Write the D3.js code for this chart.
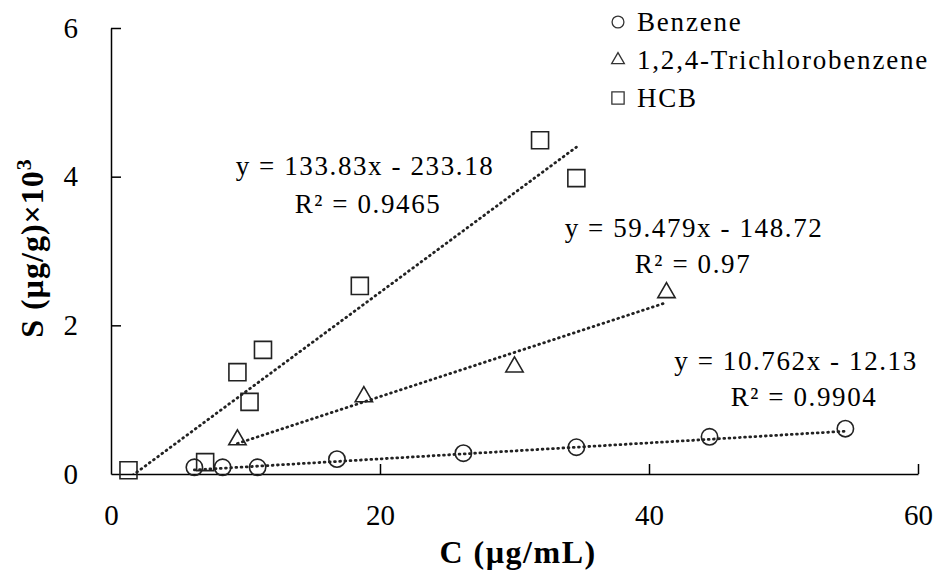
<!DOCTYPE html>
<html>
<head>
<meta charset="utf-8">
<script src="https://cdn.jsdelivr.net/npm/d3@7"></script>
<style>
  body { margin: 0; background: #fff; }
  text { font-family: "Liberation Serif", "Times New Roman", serif; fill: #000; }
</style>
</head>
<body>
<script>
// Data (S in units of 10^3 ug/g)
const seriesNames = ["Benzene", "1,2,4-Trichlorobenzene", "HCB"];
const benzeneC = [6.2, 8.3, 10.9, 16.8, 26.2, 34.6, 44.5, 54.6];
const benzeneS = [0.09, 0.09, 0.09, 0.20, 0.28, 0.36, 0.50, 0.61];
const tcbC = [9.4, 18.8, 30.0, 41.3];
const tcbS = [0.46, 1.04, 1.44, 2.44];
const hcbC = [1.3, 7.0, 9.4, 10.3, 11.3, 18.5, 31.9, 34.6];
const hcbS = [0.05, 0.16, 1.37, 0.97, 1.67, 2.53, 4.49, 3.98];
// trendline coefficients (ug/g), as printed
const slopes = [10.762, 59.479, 133.83];
const intercepts = [-12.13, -148.72, -233.18];
const eqLabels = ["y = 10.762x - 12.13", "y = 59.479x - 148.72", "y = 133.83x - 233.18"];
const r2Labels = ["R\u00b2 = 0.9904", "R\u00b2 = 0.97", "R\u00b2 = 0.9465"];
const xTicks = [0, 20, 40, 60];
const yTicks = [0, 2, 4, 6];

const canvWidth = 938, canvHeight = 573;
const svg = d3.select("body").append("svg")
    .attr("width", canvWidth)
    .attr("height", canvHeight);

const margin = {top: 28, right: 20, bottom: 99, left: 111};
const width = 918 - margin.left;
const height = 474 - margin.top;

const g = svg.append("g")
    .attr("transform", "translate(" + margin.left + "," + margin.top + ")");

const xScale = d3.scaleLinear().domain([0, 60]).range([0, width]);
const yScale = d3.scaleLinear().domain([0, 6]).range([height, 0]);

// axes (ticks point inward)
const xAxis = g.append("g")
    .attr("transform", "translate(0," + height + ")")
    .call(d3.axisBottom(xScale).tickValues(xTicks).tickFormat(d3.format("d"))
      .tickSizeInner(-10).tickSizeOuter(0).tickPadding(30));
const yAxis = g.append("g")
    .call(d3.axisLeft(yScale).tickValues(yTicks).tickFormat(d3.format("d"))
      .tickSizeInner(-10).tickSizeOuter(0).tickPadding(33));
[xAxis, yAxis].forEach(ax => {
  ax.select(".domain").attr("stroke", "#000").attr("stroke-width", 1.5);
  ax.selectAll(".tick line").attr("stroke", "#000").attr("stroke-width", 1.5);
  ax.selectAll(".tick text")
    .attr("font-size", 29)
    .attr("fill", "#000");
});
xAxis.selectAll(".tick").filter(d => d === 0).select("line").remove();
yAxis.selectAll(".tick").filter(d => d === 0).select("line").remove();

// clip for trendlines
g.append("clipPath").attr("id", "plotclip")
  .append("rect").attr("x", 0).attr("y", 0).attr("width", width).attr("height", height);

const series = [
  {c: benzeneC, s: benzeneS, sym: d3.symbolCircle, size: 210},
  {c: tcbC, s: tcbS, sym: d3.symbolTriangle, size: 130},
  {c: hcbC, s: hcbS, sym: d3.symbolSquare, size: 290}
];

// trendlines
series.forEach((sr, i) => {
  const xs = d3.extent(sr.c);
  const pts = xs.map(x => [x, (slopes[i] * x + intercepts[i]) / 1000]);
  g.append("path")
    .attr("clip-path", "url(#plotclip)")
    .attr("d", d3.line().x(d => xScale(d[0])).y(d => yScale(d[1]))(pts))
    .attr("fill", "none")
    .attr("stroke", "#222")
    .attr("stroke-width", 2.8)
    .attr("stroke-linecap", "round")
    .attr("stroke-dasharray", "0.8,4.4");
});

// markers
series.forEach(sr => {
  g.selectAll(null)
    .data(sr.c.map((c, j) => [c, sr.s[j]]))
    .enter().append("path")
    .attr("transform", d => "translate(" + xScale(d[0]) + "," + yScale(d[1]) + ")")
    .attr("d", d3.symbol().type(sr.sym).size(sr.size))
    .attr("fill", "none")
    .attr("stroke", "#222")
    .attr("stroke-width", 1.6);
});

// equation labels
const eqPos = [[796, 370, 804, 406], [694, 237, 693, 273], [365, 175, 368, 213]];
eqPos.forEach((p, i) => {
  svg.append("text").attr("x", p[0]).attr("y", p[1])
    .attr("font-size", 27).attr("letter-spacing", 1.6)
    .attr("text-anchor", "middle").text(eqLabels[i]);
  svg.append("text").attr("x", p[2]).attr("y", p[3])
    .attr("font-size", 27).attr("letter-spacing", 1.6)
    .attr("text-anchor", "middle").text(r2Labels[i]);
});

// legend
const legend = svg.append("g").attr("transform", "translate(618,22)");
const legSyms = [d3.symbolCircle, d3.symbolTriangle, d3.symbolSquare];
const legSizes = [110, 70, 150];
seriesNames.forEach((name, i) => {
  const row = legend.append("g").attr("transform", "translate(0," + (i * 38) + ")");
  row.append("path")
    .attr("d", d3.symbol().type(legSyms[i]).size(legSizes[i]))
    .attr("fill", "none").attr("stroke", "#333").attr("stroke-width", 1.3);
  row.append("text").attr("x", 19).attr("y", 9)
    .attr("font-size", 27).attr("letter-spacing", 1.8).text(name);
});

// axis titles
svg.append("text")
    .attr("x", 518).attr("y", 563)
    .attr("font-size", 32).attr("font-weight", "bold")
    .attr("letter-spacing", 1.5)
    .attr("text-anchor", "middle")
    .text("C (\u00b5g/mL)");

const yTitle = svg.append("text")
    .attr("transform", "translate(43,248) rotate(-90)")
    .attr("font-size", 32).attr("font-weight", "bold")
    .attr("letter-spacing", 1)
    .attr("text-anchor", "middle");
yTitle.append("tspan").text("S (\u00b5g/g)\u00d710");
yTitle.append("tspan").attr("dy", -12).attr("font-size", 22).text("3");
</script>
</body>
</html>
